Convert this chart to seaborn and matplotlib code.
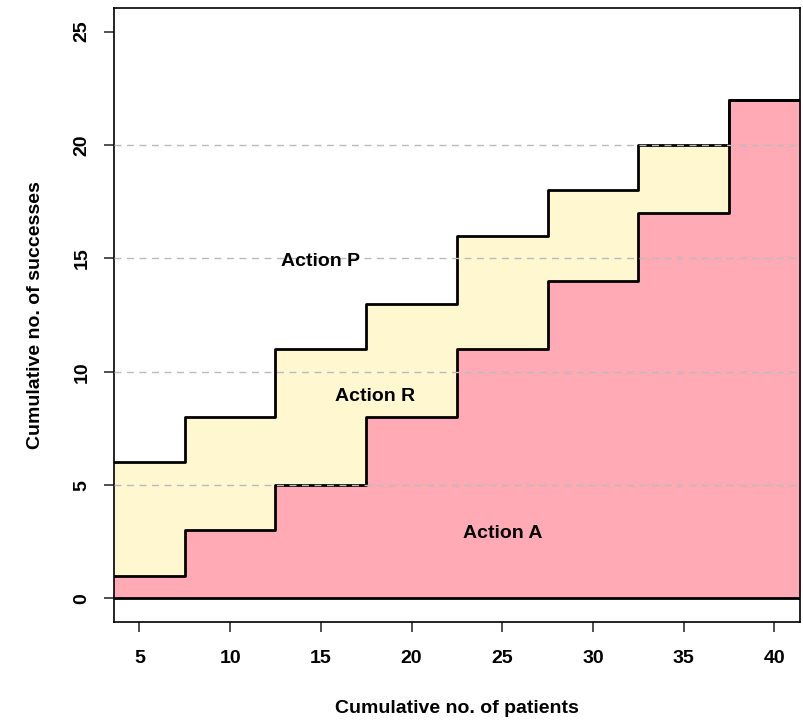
import numpy as np
import pandas as pd
import matplotlib
matplotlib.use("Agg")
import matplotlib.pyplot as plt
import seaborn as sns

patients = [5, 10, 15, 20, 25, 30, 35, 40]
lower_bound = [1, 3, 5, 8, 11, 14, 17, 22]
upper_bound = [6, 8, 11, 13, 16, 18, 20, 22]
region_labels = ["Action P", "Action R", "Action A"]
label_x = [15, 18, 25]
label_y = [14.85, 8.9, 2.85]
xticks = [5, 10, 15, 20, 25, 30, 35, 40]
yticks = [0, 5, 10, 15, 20, 25]
grid_levels = [5, 10, 15, 20]

sns.set_style("white")
plt.rcParams["font.family"] = ["Liberation Sans", "DejaVu Sans"]
plt.rcParams["text.color"] = "black"
plt.rcParams["axes.labelcolor"] = "black"
plt.rcParams["xtick.color"] = "black"
plt.rcParams["ytick.color"] = "black"

fig = plt.figure(figsize=(8.04, 7.2), dpi=100)
ax = fig.add_axes([0.1418, 0.136, 0.853, 0.853])

half = 2.5
edges = np.array([p - half for p in patients] + [patients[-1] + half])
lo = np.array(lower_bound + [lower_bound[-1]])
up = np.array(upper_bound + [upper_bound[-1]])

pink = "#FFAAB5"
yellow = "#FFF7CF"
ax.fill_between(edges, 0, lo, step="post", color=pink, lw=0, zorder=1)
ax.fill_between(edges, lo, up, step="post", color=yellow, lw=0, zorder=1)

df = pd.DataFrame({"x": np.concatenate([edges, edges]),
                   "y": np.concatenate([lo, up]),
                   "b": ["lower"] * len(edges) + ["upper"] * len(edges)})
sns.lineplot(data=df, x="x", y="y", units="b", estimator=None,
             drawstyle="steps-post", color="black", lw=2, ax=ax, zorder=3,
             legend=False)
ax.axhline(0, color="black", lw=2, zorder=3)

for g in grid_levels:
    ax.axhline(g, color="#BBBBBB", lw=1, ls=(0, (5, 4)), zorder=4)

for t, x, y in zip(region_labels, label_x, label_y):
    ax.text(x, y, t, ha="center", va="center", fontsize=14, fontweight="bold",
            color="black", zorder=5)

ax.set_xlim(3.6, 41.4)
ax.set_ylim(-1.04, 26.04)
ax.set_xticks(xticks)
ax.set_yticks(yticks)
ax.set_xticklabels([str(t) for t in xticks], fontsize=14, fontweight="bold")
ax.set_yticklabels([str(t) for t in yticks], fontsize=14, fontweight="bold",
                   rotation=90, va="center")
ax.tick_params(axis="both", direction="out", length=7, width=1.2, color="#333333",
               bottom=True, left=True)
ax.tick_params(axis="x", pad=13)
ax.tick_params(axis="y", pad=10)
ax.set_xlabel("Cumulative no. of patients", fontsize=14, fontweight="bold", labelpad=24)
ax.set_ylabel("Cumulative no. of successes", fontsize=14, fontweight="bold", labelpad=21)
for s in ax.spines.values():
    s.set_visible(True)
    s.set_color("black")
    s.set_linewidth(1.2)

fig.savefig("out.png", dpi=100)
